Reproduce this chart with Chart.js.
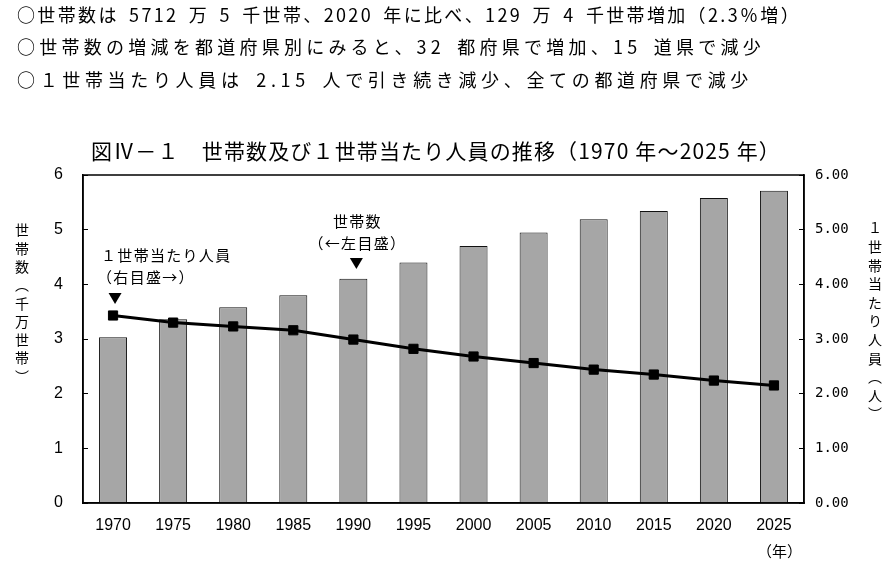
<!DOCTYPE html>
<html><head><meta charset="utf-8">
<script src="https://cdn.jsdelivr.net/npm/chart.js@4.4.1/dist/chart.umd.min.js"></script>
<style>
body{margin:0;background:#fff;}
#wrap{position:relative;width:887px;height:562px;overflow:hidden;font-family:'Noto Sans CJK JP',sans-serif;color:#000;}
.line{position:absolute;font-size:18px;line-height:20px;white-space:nowrap;word-spacing:4px;}
#title{position:absolute;font-size:21px;line-height:26px;white-space:nowrap;}
.vt{position:absolute;writing-mode:vertical-rl;font-size:14px;line-height:16px;white-space:nowrap;}
#nen{position:absolute;left:757px;top:541px;font-size:15px;line-height:20px;}
canvas{position:absolute;left:0;top:0;}
</style></head>
<body>
<div id="wrap">
<canvas id="c" width="887" height="562"></canvas>
<div class="line fit" style="left:17px;top:4px" data-w="784">○世帯数は 5712 万 5 千世帯、2020 年に比べ、129 万 4 千世帯増加（2.3％増）</div>
<div class="line fit" style="left:17px;top:36px" data-w="748">○世帯数の増減を都道府県別にみると、32 都府県で増加、15 道県で減少</div>
<div class="line fit" style="left:17px;top:69px" data-w="736">○１世帯当たり人員は 2.15 人で引き続き減少、全ての都道府県で減少</div>
<div id="title" class="fit" style="left:91px;top:137px" data-w="690">図Ⅳ－１　世帯数及び１世帯当たり人員の推移（1970 年～2025 年）</div>
<div class="vt" style="left:14px;top:223px;letter-spacing:4.3px">世帯数（千万世帯）</div>
<div class="vt" style="left:867px;top:221px;letter-spacing:4.6px">１世帯当たり人員（人）</div>
<div id="nen">（年）</div>
</div>
<script>
const years = ['1970','1975','1980','1985','1990','1995','2000','2005','2010','2015','2020','2025'];
const households = [3.03, 3.36, 3.58, 3.80, 4.10, 4.40, 4.70, 4.95, 5.19, 5.34, 5.58, 5.71];
const personsPerHousehold = [3.43, 3.30, 3.23, 3.16, 2.99, 2.82, 2.68, 2.56, 2.44, 2.35, 2.24, 2.15];
const leftTickValues = [0, 1, 2, 3, 4, 5, 6];
const rightTickValues = [0, 1, 2, 3, 4, 5, 6];

document.querySelectorAll('.fit').forEach(el => {
  const target = +el.dataset.w;
  const n = [...el.textContent].length;
  const w = el.getBoundingClientRect().width;
  el.style.letterSpacing = ((target - w) / n) + 'px';
});

const frame = {
  id: 'frame',
  afterDatasetsDraw(chart) {
    const {ctx, chartArea: a} = chart;
    ctx.save();
    ctx.strokeStyle = '#000';
    ctx.lineWidth = 1.5;
    ctx.strokeRect(a.left, a.top, a.right - a.left, a.bottom - a.top);
    ctx.restore();
  }
};

const notes = {
  id: 'notes',
  afterDraw(chart) {
    const {ctx} = chart;
    const x = chart.scales.x;
    const p0 = x.getPixelForValue(0);
    const p4 = x.getPixelForValue(4);
    ctx.save();
    ctx.fillStyle = '#000';
    ctx.font = '15px "Noto Sans CJK JP"';
    ctx.letterSpacing = '1.3px';
    ctx.textBaseline = 'middle';
    ctx.textAlign = 'left';
    ctx.fillText('１世帯当たり人員', p0 - 12, 255);
    ctx.fillText('（右目盛→）', p0 - 16, 277);
    ctx.textAlign = 'center';
    ctx.fillText('世帯数', p4 + 4, 221);
    ctx.fillText('（←左目盛）', p4 + 4, 243);
    const tri = (cx, ty) => {
      ctx.beginPath();
      ctx.moveTo(cx - 6.5, ty);
      ctx.lineTo(cx + 6.5, ty);
      ctx.lineTo(cx, ty + 11);
      ctx.closePath();
      ctx.fill();
    };
    tri(p0 + 2, 293);
    tri(p4 + 3, 258);
    ctx.restore();
  }
};

const tickFont = {family: "'Liberation Sans Narrow','Arial Narrow','Liberation Sans',sans-serif", size: 16};

new Chart(document.getElementById('c'), {
  data: {
    labels: years,
    datasets: [
      {
        type: 'line', data: personsPerHousehold, yAxisID: 'y1',
        borderColor: '#000', borderWidth: 3, tension: 0,
        pointStyle: 'rect', pointRadius: 6.5, pointBackgroundColor: '#000',
        pointBorderColor: '#000', pointBorderWidth: 1, order: 0
      },
      {
        type: 'bar', data: households, yAxisID: 'y',
        backgroundColor: '#a6a6a6', borderColor: '#111', borderWidth: 1,
        barPercentage: 0.466, categoryPercentage: 1, order: 1
      }
    ]
  },
  options: {
    responsive: false, animation: false,
    layout: {padding: {top: 175, left: 0, right: 0, bottom: 0}},
    plugins: {legend: {display: false}, tooltip: {enabled: false}},
    scales: {
      x: {
        grid: {display: false, drawTicks: false},
        border: {color: '#000', width: 1.5},
        ticks: {font: tickFont, color: '#000', padding: 13, maxRotation: 0},
        afterFit(s) { s.height = 59; }
      },
      y: {
        position: 'left', min: 0, max: 6,
        afterBuildTicks(s) { s.ticks = leftTickValues.map(v => ({value: v})); },
        ticks: {font: tickFont, color: '#000', padding: 25},
        grid: {drawOnChartArea: false, drawTicks: true, tickLength: -5, color: '#000', lineWidth: 1},
        border: {color: '#000', width: 1.5},
        afterFit(s) { s.width = 83; }
      },
      y1: {
        position: 'right', min: 0, max: 6,
        afterBuildTicks(s) { s.ticks = rightTickValues.map(v => ({value: v})); },
        ticks: {font: {family: "'DejaVu Sans Mono',monospace", size: 14}, color: '#000', padding: 16,
                callback: v => Number(v).toFixed(2)},
        grid: {drawOnChartArea: false, drawTicks: true, tickLength: -5, color: '#000', lineWidth: 1},
        border: {color: '#000', width: 1.5},
        afterFit(s) { s.width = 83; }
      }
    }
  },
  plugins: [frame, notes]
});
</script>
</body></html>
